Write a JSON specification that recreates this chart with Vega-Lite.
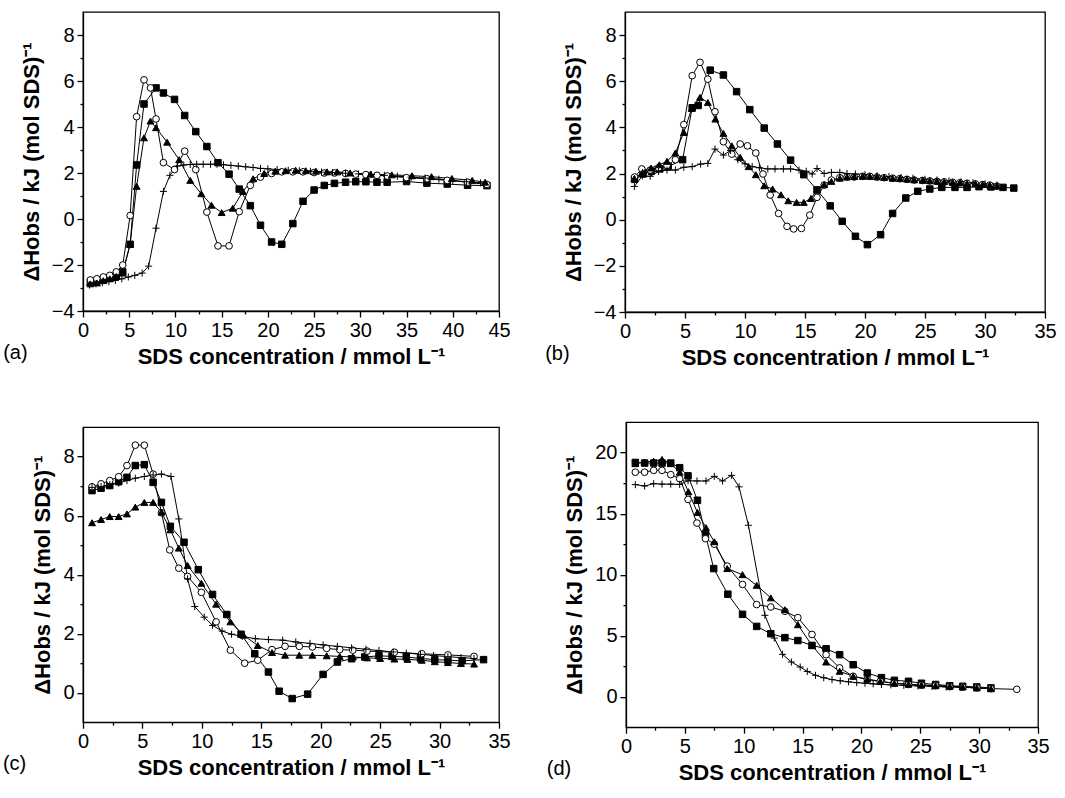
{
"$schema": "https://vega.github.io/schema/vega-lite/v6.json",
"padding": {"left": 2, "top": 11, "right": 0, "bottom": 0},
"background": "white",
"datasets": {"d": [
{"p":"a","s":"sq","x":0.8,"y":-2.75},{"p":"a","s":"sq","x":1.5,"y":-2.7},{"p":"a","s":"sq","x":2.2,"y":-2.62},{"p":"a","s":"sq","x":2.9,"y":-2.55},{"p":"a","s":"sq","x":3.6,"y":-2.45},{"p":"a","s":"sq","x":4.3,"y":-2.3},{"p":"a","s":"sq","x":5.1,"y":-1.1},{"p":"a","s":"sq","x":5.8,"y":2.35},{"p":"a","s":"sq","x":6.6,"y":5.0},{"p":"a","s":"sq","x":7.9,"y":5.7},{"p":"a","s":"sq","x":8.7,"y":5.48},{"p":"a","s":"sq","x":9.9,"y":5.2},{"p":"a","s":"sq","x":11.0,"y":4.5},{"p":"a","s":"sq","x":12.2,"y":3.8},{"p":"a","s":"sq","x":13.4,"y":3.15},{"p":"a","s":"sq","x":14.6,"y":2.45},{"p":"a","s":"sq","x":15.8,"y":1.95},{"p":"a","s":"sq","x":16.9,"y":1.3},{"p":"a","s":"sq","x":18.1,"y":0.58},{"p":"a","s":"sq","x":19.2,"y":-0.27},{"p":"a","s":"sq","x":20.4,"y":-1.0},{"p":"a","s":"sq","x":21.5,"y":-1.1},{"p":"a","s":"sq","x":22.7,"y":-0.2},{"p":"a","s":"sq","x":23.8,"y":0.77},{"p":"a","s":"sq","x":25.0,"y":1.26},{"p":"a","s":"sq","x":26.1,"y":1.46},{"p":"a","s":"sq","x":27.2,"y":1.55},{"p":"a","s":"sq","x":28.4,"y":1.6},{"p":"a","s":"sq","x":29.5,"y":1.62},{"p":"a","s":"sq","x":30.6,"y":1.62},{"p":"a","s":"sq","x":31.8,"y":1.6},{"p":"a","s":"sq","x":32.9,"y":1.6},{"p":"a","s":"sq","x":35.0,"y":1.63},{"p":"a","s":"sq","x":37.2,"y":1.56},{"p":"a","s":"sq","x":39.4,"y":1.52},{"p":"a","s":"sq","x":41.6,"y":1.47},{"p":"a","s":"sq","x":43.7,"y":1.45},
{"p":"a","s":"ci","x":0.8,"y":-2.65},{"p":"a","s":"ci","x":1.5,"y":-2.6},{"p":"a","s":"ci","x":2.2,"y":-2.52},{"p":"a","s":"ci","x":2.9,"y":-2.45},{"p":"a","s":"ci","x":3.6,"y":-2.3},{"p":"a","s":"ci","x":4.3,"y":-2.0},{"p":"a","s":"ci","x":5.1,"y":0.15},{"p":"a","s":"ci","x":5.8,"y":4.45},{"p":"a","s":"ci","x":6.6,"y":6.05},{"p":"a","s":"ci","x":7.3,"y":5.7},{"p":"a","s":"ci","x":7.9,"y":4.35},{"p":"a","s":"ci","x":8.7,"y":2.45},{"p":"a","s":"ci","x":9.9,"y":2.15},{"p":"a","s":"ci","x":11.0,"y":2.95},{"p":"a","s":"ci","x":12.2,"y":2.15},{"p":"a","s":"ci","x":13.4,"y":0.3},{"p":"a","s":"ci","x":14.6,"y":-1.17},{"p":"a","s":"ci","x":15.8,"y":-1.17},{"p":"a","s":"ci","x":16.9,"y":0.32},{"p":"a","s":"ci","x":18.1,"y":1.46},{"p":"a","s":"ci","x":19.2,"y":1.82},{"p":"a","s":"ci","x":20.4,"y":1.98},{"p":"a","s":"ci","x":21.5,"y":2.05},{"p":"a","s":"ci","x":22.7,"y":2.05},{"p":"a","s":"ci","x":23.8,"y":2.05},{"p":"a","s":"ci","x":25.0,"y":2.02},{"p":"a","s":"ci","x":26.1,"y":2.0},{"p":"a","s":"ci","x":27.2,"y":2.0},{"p":"a","s":"ci","x":28.4,"y":1.98},{"p":"a","s":"ci","x":29.5,"y":1.95},{"p":"a","s":"ci","x":30.6,"y":1.93},{"p":"a","s":"ci","x":31.8,"y":1.9},{"p":"a","s":"ci","x":32.9,"y":1.87},{"p":"a","s":"ci","x":35.0,"y":1.8},{"p":"a","s":"ci","x":37.2,"y":1.75},{"p":"a","s":"ci","x":39.4,"y":1.68},{"p":"a","s":"ci","x":41.6,"y":1.6},{"p":"a","s":"ci","x":43.7,"y":1.5},
{"p":"a","s":"tr","x":0.8,"y":-2.82},{"p":"a","s":"tr","x":1.5,"y":-2.78},{"p":"a","s":"tr","x":2.2,"y":-2.68},{"p":"a","s":"tr","x":2.9,"y":-2.6},{"p":"a","s":"tr","x":3.6,"y":-2.5},{"p":"a","s":"tr","x":4.3,"y":-2.35},{"p":"a","s":"tr","x":5.1,"y":-1.1},{"p":"a","s":"tr","x":5.8,"y":1.42},{"p":"a","s":"tr","x":6.6,"y":3.53},{"p":"a","s":"tr","x":7.3,"y":4.26},{"p":"a","s":"tr","x":7.9,"y":3.97},{"p":"a","s":"tr","x":9.1,"y":3.34},{"p":"a","s":"tr","x":10.4,"y":2.58},{"p":"a","s":"tr","x":11.6,"y":1.68},{"p":"a","s":"tr","x":12.8,"y":1.1},{"p":"a","s":"tr","x":13.9,"y":0.6},{"p":"a","s":"tr","x":15.0,"y":0.28},{"p":"a","s":"tr","x":16.2,"y":0.47},{"p":"a","s":"tr","x":17.3,"y":1.2},{"p":"a","s":"tr","x":18.4,"y":1.75},{"p":"a","s":"tr","x":19.6,"y":1.98},{"p":"a","s":"tr","x":20.8,"y":2.08},{"p":"a","s":"tr","x":21.9,"y":2.1},{"p":"a","s":"tr","x":23.0,"y":2.12},{"p":"a","s":"tr","x":24.1,"y":2.1},{"p":"a","s":"tr","x":25.2,"y":2.08},{"p":"a","s":"tr","x":26.4,"y":2.05},{"p":"a","s":"tr","x":27.5,"y":2.05},{"p":"a","s":"tr","x":28.9,"y":2.0},{"p":"a","s":"tr","x":31.1,"y":1.95},{"p":"a","s":"tr","x":33.4,"y":1.92},{"p":"a","s":"tr","x":35.6,"y":1.88},{"p":"a","s":"tr","x":37.7,"y":1.84},{"p":"a","s":"tr","x":39.9,"y":1.76},{"p":"a","s":"tr","x":42.1,"y":1.68},{"p":"a","s":"tr","x":43.5,"y":1.6},
{"p":"a","s":"pl","x":0.7,"y":-2.87},{"p":"a","s":"pl","x":1.4,"y":-2.82},{"p":"a","s":"pl","x":2.1,"y":-2.77},{"p":"a","s":"pl","x":2.8,"y":-2.72},{"p":"a","s":"pl","x":3.5,"y":-2.67},{"p":"a","s":"pl","x":4.2,"y":-2.6},{"p":"a","s":"pl","x":4.9,"y":-2.52},{"p":"a","s":"pl","x":5.6,"y":-2.45},{"p":"a","s":"pl","x":6.4,"y":-2.35},{"p":"a","s":"pl","x":7.1,"y":-2.05},{"p":"a","s":"pl","x":7.9,"y":-0.4},{"p":"a","s":"pl","x":8.7,"y":1.2},{"p":"a","s":"pl","x":9.4,"y":1.9},{"p":"a","s":"pl","x":10.2,"y":2.3},{"p":"a","s":"pl","x":10.9,"y":2.35},{"p":"a","s":"pl","x":11.6,"y":2.37},{"p":"a","s":"pl","x":12.3,"y":2.38},{"p":"a","s":"pl","x":13.0,"y":2.38},{"p":"a","s":"pl","x":13.8,"y":2.38},{"p":"a","s":"pl","x":14.5,"y":2.38},{"p":"a","s":"pl","x":15.2,"y":2.36},{"p":"a","s":"pl","x":16.0,"y":2.33},{"p":"a","s":"pl","x":16.8,"y":2.3},{"p":"a","s":"pl","x":17.6,"y":2.27},{"p":"a","s":"pl","x":18.4,"y":2.24},{"p":"a","s":"pl","x":19.2,"y":2.2},{"p":"a","s":"pl","x":20.0,"y":2.18},{"p":"a","s":"pl","x":21.0,"y":2.15},{"p":"a","s":"pl","x":22.2,"y":2.12},{"p":"a","s":"pl","x":23.4,"y":2.1},{"p":"a","s":"pl","x":24.6,"y":2.07},{"p":"a","s":"pl","x":25.8,"y":2.04},{"p":"a","s":"pl","x":27.0,"y":2.02},{"p":"a","s":"pl","x":28.4,"y":1.99},{"p":"a","s":"pl","x":29.8,"y":1.96},{"p":"a","s":"pl","x":31.2,"y":1.93},{"p":"a","s":"pl","x":32.6,"y":1.9},{"p":"a","s":"pl","x":34.0,"y":1.86},{"p":"a","s":"pl","x":35.5,"y":1.82},{"p":"a","s":"pl","x":37.0,"y":1.78},{"p":"a","s":"pl","x":38.5,"y":1.73},{"p":"a","s":"pl","x":40.0,"y":1.68},{"p":"a","s":"pl","x":41.5,"y":1.62},{"p":"a","s":"pl","x":43.0,"y":1.57},

{"p":"b","s":"sq","x":0.8,"y":1.75},{"p":"b","s":"sq","x":1.5,"y":1.98},{"p":"b","s":"sq","x":2.2,"y":2.1},{"p":"b","s":"sq","x":2.9,"y":2.2},{"p":"b","s":"sq","x":3.6,"y":2.3},{"p":"b","s":"sq","x":4.8,"y":2.6},{"p":"b","s":"sq","x":5.6,"y":4.85},{"p":"b","s":"sq","x":6.1,"y":4.95},{"p":"b","s":"sq","x":7.1,"y":6.48},{"p":"b","s":"sq","x":8.2,"y":6.27},{"p":"b","s":"sq","x":9.3,"y":5.55},{"p":"b","s":"sq","x":10.4,"y":4.77},{"p":"b","s":"sq","x":11.6,"y":3.97},{"p":"b","s":"sq","x":12.7,"y":3.28},{"p":"b","s":"sq","x":13.8,"y":2.58},{"p":"b","s":"sq","x":14.9,"y":1.95},{"p":"b","s":"sq","x":16.0,"y":1.29},{"p":"b","s":"sq","x":17.1,"y":0.6},{"p":"b","s":"sq","x":18.1,"y":-0.07},{"p":"b","s":"sq","x":19.2,"y":-0.72},{"p":"b","s":"sq","x":20.2,"y":-1.08},{"p":"b","s":"sq","x":21.3,"y":-0.65},{"p":"b","s":"sq","x":22.3,"y":0.27},{"p":"b","s":"sq","x":23.4,"y":0.94},{"p":"b","s":"sq","x":24.4,"y":1.23},{"p":"b","s":"sq","x":25.4,"y":1.33},{"p":"b","s":"sq","x":26.4,"y":1.4},{"p":"b","s":"sq","x":27.5,"y":1.4},{"p":"b","s":"sq","x":28.5,"y":1.4},{"p":"b","s":"sq","x":29.5,"y":1.43},{"p":"b","s":"sq","x":30.5,"y":1.42},{"p":"b","s":"sq","x":31.5,"y":1.4},{"p":"b","s":"sq","x":32.4,"y":1.37},
{"p":"b","s":"ci","x":0.8,"y":1.85},{"p":"b","s":"ci","x":1.4,"y":2.2},{"p":"b","s":"ci","x":2.1,"y":2.15},{"p":"b","s":"ci","x":2.8,"y":2.25},{"p":"b","s":"ci","x":3.5,"y":2.35},{"p":"b","s":"ci","x":4.2,"y":2.6},{"p":"b","s":"ci","x":4.9,"y":4.12},{"p":"b","s":"ci","x":5.6,"y":6.24},{"p":"b","s":"ci","x":6.25,"y":6.82},{"p":"b","s":"ci","x":6.9,"y":6.09},{"p":"b","s":"ci","x":7.5,"y":4.68},{"p":"b","s":"ci","x":8.2,"y":3.38},{"p":"b","s":"ci","x":8.9,"y":2.84},{"p":"b","s":"ci","x":9.6,"y":3.28},{"p":"b","s":"ci","x":10.2,"y":3.2},{"p":"b","s":"ci","x":10.9,"y":2.89},{"p":"b","s":"ci","x":11.5,"y":1.98},{"p":"b","s":"ci","x":12.1,"y":1.07},{"p":"b","s":"ci","x":12.8,"y":0.27},{"p":"b","s":"ci","x":13.5,"y":-0.29},{"p":"b","s":"ci","x":14.05,"y":-0.4},{"p":"b","s":"ci","x":14.7,"y":-0.38},{"p":"b","s":"ci","x":15.4,"y":0.2},{"p":"b","s":"ci","x":16.0,"y":0.97},{"p":"b","s":"ci","x":16.6,"y":1.5},{"p":"b","s":"ci","x":17.2,"y":1.72},{"p":"b","s":"ci","x":17.9,"y":1.82},{"p":"b","s":"ci","x":18.5,"y":1.85},{"p":"b","s":"ci","x":19.1,"y":1.85},{"p":"b","s":"ci","x":19.8,"y":1.88},{"p":"b","s":"ci","x":20.4,"y":1.88},{"p":"b","s":"ci","x":21.0,"y":1.85},{"p":"b","s":"ci","x":21.6,"y":1.82},{"p":"b","s":"ci","x":22.3,"y":1.8},{"p":"b","s":"ci","x":22.9,"y":1.78},{"p":"b","s":"ci","x":23.5,"y":1.75},{"p":"b","s":"ci","x":24.1,"y":1.72},{"p":"b","s":"ci","x":24.8,"y":1.7},{"p":"b","s":"ci","x":25.4,"y":1.68},{"p":"b","s":"ci","x":26.0,"y":1.66},{"p":"b","s":"ci","x":26.6,"y":1.64},{"p":"b","s":"ci","x":27.3,"y":1.62},{"p":"b","s":"ci","x":27.9,"y":1.6},{"p":"b","s":"ci","x":28.5,"y":1.58},{"p":"b","s":"ci","x":29.2,"y":1.55},{"p":"b","s":"ci","x":29.8,"y":1.52},{"p":"b","s":"ci","x":30.4,"y":1.5},{"p":"b","s":"ci","x":31.0,"y":1.45},
{"p":"b","s":"tr","x":0.78,"y":1.79},{"p":"b","s":"tr","x":1.47,"y":2.05},{"p":"b","s":"tr","x":2.17,"y":2.24},{"p":"b","s":"tr","x":2.86,"y":2.38},{"p":"b","s":"tr","x":3.5,"y":2.53},{"p":"b","s":"tr","x":4.2,"y":2.89},{"p":"b","s":"tr","x":4.9,"y":3.78},{"p":"b","s":"tr","x":5.56,"y":4.82},{"p":"b","s":"tr","x":6.25,"y":5.3},{"p":"b","s":"tr","x":6.9,"y":5.08},{"p":"b","s":"tr","x":7.53,"y":4.36},{"p":"b","s":"tr","x":8.2,"y":3.74},{"p":"b","s":"tr","x":8.9,"y":3.2},{"p":"b","s":"tr","x":9.6,"y":2.7},{"p":"b","s":"tr","x":10.3,"y":2.3},{"p":"b","s":"tr","x":10.9,"y":1.95},{"p":"b","s":"tr","x":11.6,"y":1.47},{"p":"b","s":"tr","x":12.3,"y":1.33},{"p":"b","s":"tr","x":13.0,"y":1.08},{"p":"b","s":"tr","x":13.6,"y":0.82},{"p":"b","s":"tr","x":14.3,"y":0.75},{"p":"b","s":"tr","x":14.9,"y":0.75},{"p":"b","s":"tr","x":15.5,"y":0.92},{"p":"b","s":"tr","x":16.0,"y":1.3},{"p":"b","s":"tr","x":16.6,"y":1.52},{"p":"b","s":"tr","x":17.2,"y":1.66},{"p":"b","s":"tr","x":17.9,"y":1.8},{"p":"b","s":"tr","x":18.5,"y":1.85},{"p":"b","s":"tr","x":19.1,"y":1.87},{"p":"b","s":"tr","x":19.8,"y":1.88},{"p":"b","s":"tr","x":20.4,"y":1.88},{"p":"b","s":"tr","x":21.0,"y":1.86},{"p":"b","s":"tr","x":21.6,"y":1.83},{"p":"b","s":"tr","x":22.3,"y":1.8},{"p":"b","s":"tr","x":22.9,"y":1.78},{"p":"b","s":"tr","x":23.5,"y":1.76},{"p":"b","s":"tr","x":24.1,"y":1.73},{"p":"b","s":"tr","x":24.8,"y":1.71},{"p":"b","s":"tr","x":25.4,"y":1.69},{"p":"b","s":"tr","x":26.0,"y":1.67},{"p":"b","s":"tr","x":26.6,"y":1.65},{"p":"b","s":"tr","x":27.3,"y":1.62},{"p":"b","s":"tr","x":27.9,"y":1.6},{"p":"b","s":"tr","x":28.5,"y":1.58},{"p":"b","s":"tr","x":29.2,"y":1.56},{"p":"b","s":"tr","x":29.8,"y":1.53},{"p":"b","s":"tr","x":30.4,"y":1.5},{"p":"b","s":"tr","x":31.0,"y":1.47},
{"p":"b","s":"pl","x":0.78,"y":1.44},{"p":"b","s":"pl","x":1.45,"y":1.9},{"p":"b","s":"pl","x":2.1,"y":1.88},{"p":"b","s":"pl","x":2.8,"y":2.09},{"p":"b","s":"pl","x":3.5,"y":2.15},{"p":"b","s":"pl","x":4.2,"y":2.15},{"p":"b","s":"pl","x":4.9,"y":2.27},{"p":"b","s":"pl","x":5.6,"y":2.3},{"p":"b","s":"pl","x":6.3,"y":2.41},{"p":"b","s":"pl","x":6.9,"y":2.44},{"p":"b","s":"pl","x":7.5,"y":3.06},{"p":"b","s":"pl","x":8.2,"y":2.8},{"p":"b","s":"pl","x":8.8,"y":3.0},{"p":"b","s":"pl","x":9.4,"y":2.6},{"p":"b","s":"pl","x":10.0,"y":2.42},{"p":"b","s":"pl","x":10.6,"y":2.3},{"p":"b","s":"pl","x":11.2,"y":2.25},{"p":"b","s":"pl","x":11.9,"y":2.2},{"p":"b","s":"pl","x":12.5,"y":2.2},{"p":"b","s":"pl","x":13.2,"y":2.2},{"p":"b","s":"pl","x":13.8,"y":2.2},{"p":"b","s":"pl","x":14.5,"y":2.15},{"p":"b","s":"pl","x":15.1,"y":2.1},{"p":"b","s":"pl","x":15.6,"y":1.98},{"p":"b","s":"pl","x":16.0,"y":2.22},{"p":"b","s":"pl","x":16.6,"y":2.0},{"p":"b","s":"pl","x":17.2,"y":2.05},{"p":"b","s":"pl","x":17.9,"y":2.05},{"p":"b","s":"pl","x":18.5,"y":2.0},{"p":"b","s":"pl","x":19.2,"y":1.98},{"p":"b","s":"pl","x":20.0,"y":1.95},{"p":"b","s":"pl","x":21.0,"y":1.9},{"p":"b","s":"pl","x":22.0,"y":1.87},{"p":"b","s":"pl","x":23.0,"y":1.83},{"p":"b","s":"pl","x":24.0,"y":1.8},{"p":"b","s":"pl","x":25.0,"y":1.75},{"p":"b","s":"pl","x":26.0,"y":1.72},{"p":"b","s":"pl","x":27.0,"y":1.68},{"p":"b","s":"pl","x":28.0,"y":1.64},{"p":"b","s":"pl","x":29.0,"y":1.6},{"p":"b","s":"pl","x":30.0,"y":1.55},{"p":"b","s":"pl","x":31.0,"y":1.5},

{"p":"c","s":"sq","x":0.76,"y":6.85},{"p":"c","s":"sq","x":1.52,"y":6.93},{"p":"c","s":"sq","x":2.25,"y":7.02},{"p":"c","s":"sq","x":3.0,"y":7.15},{"p":"c","s":"sq","x":3.7,"y":7.3},{"p":"c","s":"sq","x":4.4,"y":7.7},{"p":"c","s":"sq","x":5.16,"y":7.73},{"p":"c","s":"sq","x":5.9,"y":7.13},{"p":"c","s":"sq","x":6.6,"y":6.45},{"p":"c","s":"sq","x":7.35,"y":5.64},{"p":"c","s":"sq","x":8.5,"y":5.1},{"p":"c","s":"sq","x":9.7,"y":4.17},{"p":"c","s":"sq","x":10.9,"y":3.33},{"p":"c","s":"sq","x":12.1,"y":2.65},{"p":"c","s":"sq","x":13.3,"y":1.98},{"p":"c","s":"sq","x":14.45,"y":1.32},{"p":"c","s":"sq","x":15.6,"y":0.7},{"p":"c","s":"sq","x":16.5,"y":0.05},{"p":"c","s":"sq","x":17.6,"y":-0.2},{"p":"c","s":"sq","x":18.9,"y":-0.05},{"p":"c","s":"sq","x":20.2,"y":0.62},{"p":"c","s":"sq","x":21.4,"y":1.04},{"p":"c","s":"sq","x":22.6,"y":1.15},{"p":"c","s":"sq","x":23.7,"y":1.21},{"p":"c","s":"sq","x":24.9,"y":1.25},{"p":"c","s":"sq","x":26.0,"y":1.23},{"p":"c","s":"sq","x":27.2,"y":1.21},{"p":"c","s":"sq","x":28.4,"y":1.16},{"p":"c","s":"sq","x":29.6,"y":1.12},{"p":"c","s":"sq","x":30.7,"y":1.1},{"p":"c","s":"sq","x":31.9,"y":1.08},{"p":"c","s":"sq","x":33.7,"y":1.12},
{"p":"c","s":"ci","x":0.76,"y":6.98},{"p":"c","s":"ci","x":1.52,"y":7.08},{"p":"c","s":"ci","x":2.25,"y":7.19},{"p":"c","s":"ci","x":3.0,"y":7.32},{"p":"c","s":"ci","x":3.7,"y":7.7},{"p":"c","s":"ci","x":4.4,"y":8.39},{"p":"c","s":"ci","x":5.16,"y":8.39},{"p":"c","s":"ci","x":5.9,"y":7.41},{"p":"c","s":"ci","x":6.6,"y":6.1},{"p":"c","s":"ci","x":7.3,"y":4.84},{"p":"c","s":"ci","x":8.06,"y":4.22},{"p":"c","s":"ci","x":8.8,"y":3.94},{"p":"c","s":"ci","x":9.96,"y":3.4},{"p":"c","s":"ci","x":11.2,"y":2.4},{"p":"c","s":"ci","x":12.4,"y":1.44},{"p":"c","s":"ci","x":13.6,"y":1.0},{"p":"c","s":"ci","x":14.7,"y":1.1},{"p":"c","s":"ci","x":15.9,"y":1.46},{"p":"c","s":"ci","x":17.0,"y":1.57},{"p":"c","s":"ci","x":18.2,"y":1.57},{"p":"c","s":"ci","x":19.3,"y":1.55},{"p":"c","s":"ci","x":20.5,"y":1.5},{"p":"c","s":"ci","x":21.6,"y":1.46},{"p":"c","s":"ci","x":22.7,"y":1.44},{"p":"c","s":"ci","x":23.9,"y":1.41},{"p":"c","s":"ci","x":26.2,"y":1.37},{"p":"c","s":"ci","x":28.5,"y":1.32},{"p":"c","s":"ci","x":30.7,"y":1.28},{"p":"c","s":"ci","x":32.9,"y":1.23},
{"p":"c","s":"tr","x":0.76,"y":5.76},{"p":"c","s":"tr","x":1.52,"y":5.87},{"p":"c","s":"tr","x":2.25,"y":5.97},{"p":"c","s":"tr","x":3.0,"y":5.97},{"p":"c","s":"tr","x":3.7,"y":6.06},{"p":"c","s":"tr","x":4.4,"y":6.29},{"p":"c","s":"tr","x":5.16,"y":6.45},{"p":"c","s":"tr","x":5.9,"y":6.45},{"p":"c","s":"tr","x":6.6,"y":6.12},{"p":"c","s":"tr","x":7.35,"y":5.52},{"p":"c","s":"tr","x":8.06,"y":4.9},{"p":"c","s":"tr","x":8.8,"y":4.31},{"p":"c","s":"tr","x":9.96,"y":3.71},{"p":"c","s":"tr","x":11.2,"y":3.0},{"p":"c","s":"tr","x":12.4,"y":2.4},{"p":"c","s":"tr","x":13.5,"y":1.95},{"p":"c","s":"tr","x":14.7,"y":1.6},{"p":"c","s":"tr","x":15.9,"y":1.36},{"p":"c","s":"tr","x":17.0,"y":1.27},{"p":"c","s":"tr","x":18.2,"y":1.27},{"p":"c","s":"tr","x":19.3,"y":1.27},{"p":"c","s":"tr","x":20.5,"y":1.25},{"p":"c","s":"tr","x":21.6,"y":1.23},{"p":"c","s":"tr","x":22.7,"y":1.21},{"p":"c","s":"tr","x":23.9,"y":1.18},{"p":"c","s":"tr","x":25.0,"y":1.16},{"p":"c","s":"tr","x":26.2,"y":1.14},{"p":"c","s":"tr","x":27.3,"y":1.13},{"p":"c","s":"tr","x":28.5,"y":1.1},{"p":"c","s":"tr","x":29.6,"y":1.05},{"p":"c","s":"tr","x":30.7,"y":1.02},{"p":"c","s":"tr","x":31.8,"y":0.99},{"p":"c","s":"tr","x":32.9,"y":0.97},
{"p":"c","s":"pl","x":0.76,"y":6.96},{"p":"c","s":"pl","x":1.52,"y":6.99},{"p":"c","s":"pl","x":2.25,"y":7.05},{"p":"c","s":"pl","x":3.0,"y":7.1},{"p":"c","s":"pl","x":3.7,"y":7.19},{"p":"c","s":"pl","x":4.4,"y":7.27},{"p":"c","s":"pl","x":5.16,"y":7.33},{"p":"c","s":"pl","x":5.9,"y":7.38},{"p":"c","s":"pl","x":6.6,"y":7.41},{"p":"c","s":"pl","x":7.4,"y":7.33},{"p":"c","s":"pl","x":8.06,"y":5.89},{"p":"c","s":"pl","x":8.8,"y":3.86},{"p":"c","s":"pl","x":9.4,"y":2.92},{"p":"c","s":"pl","x":10.2,"y":2.56},{"p":"c","s":"pl","x":10.9,"y":2.28},{"p":"c","s":"pl","x":11.7,"y":2.09},{"p":"c","s":"pl","x":12.5,"y":1.98},{"p":"c","s":"pl","x":13.4,"y":1.91},{"p":"c","s":"pl","x":14.5,"y":1.83},{"p":"c","s":"pl","x":15.6,"y":1.8},{"p":"c","s":"pl","x":16.8,"y":1.78},{"p":"c","s":"pl","x":17.9,"y":1.72},{"p":"c","s":"pl","x":19.1,"y":1.67},{"p":"c","s":"pl","x":20.2,"y":1.62},{"p":"c","s":"pl","x":21.4,"y":1.57},{"p":"c","s":"pl","x":22.6,"y":1.52},{"p":"c","s":"pl","x":23.8,"y":1.47},{"p":"c","s":"pl","x":24.9,"y":1.43},{"p":"c","s":"pl","x":26.1,"y":1.38},{"p":"c","s":"pl","x":27.2,"y":1.34},{"p":"c","s":"pl","x":28.4,"y":1.3},{"p":"c","s":"pl","x":29.5,"y":1.26},{"p":"c","s":"pl","x":30.7,"y":1.22},{"p":"c","s":"pl","x":31.8,"y":1.19},{"p":"c","s":"pl","x":32.9,"y":1.16},

{"p":"d","s":"sq","x":0.79,"y":19.2},{"p":"d","s":"sq","x":1.58,"y":19.15},{"p":"d","s":"sq","x":2.35,"y":19.15},{"p":"d","s":"sq","x":3.06,"y":19.15},{"p":"d","s":"sq","x":3.8,"y":19.15},{"p":"d","s":"sq","x":4.56,"y":18.77},{"p":"d","s":"sq","x":5.27,"y":18.1},{"p":"d","s":"sq","x":6.07,"y":16.1},{"p":"d","s":"sq","x":6.75,"y":13.3},{"p":"d","s":"sq","x":7.45,"y":10.5},{"p":"d","s":"sq","x":8.65,"y":8.4},{"p":"d","s":"sq","x":9.9,"y":6.75},{"p":"d","s":"sq","x":11.1,"y":5.76},{"p":"d","s":"sq","x":12.3,"y":5.16},{"p":"d","s":"sq","x":13.5,"y":4.84},{"p":"d","s":"sq","x":14.6,"y":4.6},{"p":"d","s":"sq","x":15.8,"y":4.2},{"p":"d","s":"sq","x":17.0,"y":3.93},{"p":"d","s":"sq","x":18.15,"y":3.44},{"p":"d","s":"sq","x":19.3,"y":2.62},{"p":"d","s":"sq","x":20.5,"y":1.94},{"p":"d","s":"sq","x":21.7,"y":1.56},{"p":"d","s":"sq","x":22.8,"y":1.34},{"p":"d","s":"sq","x":24.0,"y":1.26},{"p":"d","s":"sq","x":25.1,"y":1.1},{"p":"d","s":"sq","x":26.3,"y":1.0},{"p":"d","s":"sq","x":27.5,"y":0.9},{"p":"d","s":"sq","x":28.6,"y":0.85},{"p":"d","s":"sq","x":29.8,"y":0.8},{"p":"d","s":"sq","x":31.0,"y":0.72},
{"p":"d","s":"ci","x":0.79,"y":18.4},{"p":"d","s":"ci","x":1.58,"y":18.4},{"p":"d","s":"ci","x":2.35,"y":18.55},{"p":"d","s":"ci","x":3.06,"y":18.55},{"p":"d","s":"ci","x":3.8,"y":18.2},{"p":"d","s":"ci","x":4.56,"y":17.87},{"p":"d","s":"ci","x":5.27,"y":16.17},{"p":"d","s":"ci","x":6.03,"y":14.23},{"p":"d","s":"ci","x":6.75,"y":12.95},{"p":"d","s":"ci","x":7.5,"y":12.5},{"p":"d","s":"ci","x":8.6,"y":10.7},{"p":"d","s":"ci","x":9.9,"y":9.2},{"p":"d","s":"ci","x":11.1,"y":7.55},{"p":"d","s":"ci","x":12.3,"y":7.35},{"p":"d","s":"ci","x":13.5,"y":7.0},{"p":"d","s":"ci","x":14.6,"y":6.48},{"p":"d","s":"ci","x":15.8,"y":5.1},{"p":"d","s":"ci","x":17.0,"y":3.44},{"p":"d","s":"ci","x":18.15,"y":2.36},{"p":"d","s":"ci","x":19.3,"y":1.67},{"p":"d","s":"ci","x":20.5,"y":1.4},{"p":"d","s":"ci","x":21.6,"y":1.25},{"p":"d","s":"ci","x":22.8,"y":1.1},{"p":"d","s":"ci","x":24.0,"y":1.0},{"p":"d","s":"ci","x":25.1,"y":0.95},{"p":"d","s":"ci","x":26.3,"y":0.9},{"p":"d","s":"ci","x":27.5,"y":0.82},{"p":"d","s":"ci","x":28.6,"y":0.78},{"p":"d","s":"ci","x":29.8,"y":0.72},{"p":"d","s":"ci","x":31.0,"y":0.66},{"p":"d","s":"ci","x":33.2,"y":0.6},
{"p":"d","s":"tr","x":0.79,"y":19.1},{"p":"d","s":"tr","x":1.58,"y":19.23},{"p":"d","s":"tr","x":2.35,"y":19.3},{"p":"d","s":"tr","x":3.06,"y":19.45},{"p":"d","s":"tr","x":3.8,"y":19.1},{"p":"d","s":"tr","x":4.56,"y":18.4},{"p":"d","s":"tr","x":5.3,"y":16.8},{"p":"d","s":"tr","x":6.07,"y":15.1},{"p":"d","s":"tr","x":6.8,"y":13.85},{"p":"d","s":"tr","x":7.5,"y":12.7},{"p":"d","s":"tr","x":8.6,"y":10.5},{"p":"d","s":"tr","x":9.9,"y":10.0},{"p":"d","s":"tr","x":11.1,"y":9.13},{"p":"d","s":"tr","x":12.3,"y":8.1},{"p":"d","s":"tr","x":13.5,"y":7.13},{"p":"d","s":"tr","x":14.6,"y":5.9},{"p":"d","s":"tr","x":15.8,"y":4.2},{"p":"d","s":"tr","x":17.0,"y":2.84},{"p":"d","s":"tr","x":18.15,"y":2.08},{"p":"d","s":"tr","x":19.3,"y":1.67},{"p":"d","s":"tr","x":20.5,"y":1.45},{"p":"d","s":"tr","x":21.6,"y":1.25},{"p":"d","s":"tr","x":22.8,"y":1.1},{"p":"d","s":"tr","x":24.0,"y":1.02},{"p":"d","s":"tr","x":25.1,"y":0.95},{"p":"d","s":"tr","x":26.3,"y":0.9},{"p":"d","s":"tr","x":27.5,"y":0.85},{"p":"d","s":"tr","x":28.6,"y":0.8},{"p":"d","s":"tr","x":29.8,"y":0.72},{"p":"d","s":"tr","x":31.0,"y":0.65},
{"p":"d","s":"pl","x":0.79,"y":17.38},{"p":"d","s":"pl","x":1.58,"y":17.27},{"p":"d","s":"pl","x":2.35,"y":17.46},{"p":"d","s":"pl","x":3.06,"y":17.42},{"p":"d","s":"pl","x":3.8,"y":17.42},{"p":"d","s":"pl","x":4.56,"y":17.4},{"p":"d","s":"pl","x":5.27,"y":17.7},{"p":"d","s":"pl","x":6.03,"y":17.68},{"p":"d","s":"pl","x":6.8,"y":17.68},{"p":"d","s":"pl","x":7.5,"y":18.06},{"p":"d","s":"pl","x":8.2,"y":17.68},{"p":"d","s":"pl","x":8.97,"y":18.14},{"p":"d","s":"pl","x":9.6,"y":17.2},{"p":"d","s":"pl","x":10.4,"y":14.05},{"p":"d","s":"pl","x":11.8,"y":6.67},{"p":"d","s":"pl","x":12.6,"y":4.8},{"p":"d","s":"pl","x":13.3,"y":3.47},{"p":"d","s":"pl","x":14.05,"y":2.84},{"p":"d","s":"pl","x":14.8,"y":2.43},{"p":"d","s":"pl","x":15.4,"y":2.07},{"p":"d","s":"pl","x":16.1,"y":1.75},{"p":"d","s":"pl","x":16.8,"y":1.55},{"p":"d","s":"pl","x":17.5,"y":1.4},{"p":"d","s":"pl","x":18.2,"y":1.3},{"p":"d","s":"pl","x":18.9,"y":1.22},{"p":"d","s":"pl","x":19.6,"y":1.15},{"p":"d","s":"pl","x":20.3,"y":1.1},{"p":"d","s":"pl","x":21.0,"y":1.05},{"p":"d","s":"pl","x":21.7,"y":1.0},{"p":"d","s":"pl","x":22.5,"y":0.97},{"p":"d","s":"pl","x":23.6,"y":0.93},{"p":"d","s":"pl","x":24.8,"y":0.88},{"p":"d","s":"pl","x":26.0,"y":0.84},{"p":"d","s":"pl","x":27.2,"y":0.8},{"p":"d","s":"pl","x":28.4,"y":0.77},{"p":"d","s":"pl","x":29.6,"y":0.73},{"p":"d","s":"pl","x":30.8,"y":0.7}
]},
"spacing": 52,
"vconcat": [
{"hconcat": [
{"width": 416, "height": 299,
 "data": {"name": "d"},
 "title": {"text": "(a)", "orient": "bottom", "anchor": "start", "frame": "bounds", "offset": -24, "dx": -17, "fontSize": 20, "fontWeight": "normal", "font": "Liberation Sans", "color": "black"},
 "transform": [{"filter": "datum.p === 'a'"}],
 "encoding": {
  "x": {"field": "x", "type": "quantitative", "scale": {"domain": [0, 45], "nice": false, "zero": false},
        "axis": {"values": [0,2.5,5,7.5,10,12.5,15,17.5,20,22.5,25,27.5,30,32.5,35,37.5,40,42.5,45], "labelExpr": "datum.value % 5 === 0 ? datum.label : ''", "tickSize": {"condition": {"test": "datum.value % 5 === 0", "value": 6}, "value": 3}, "title": "SDS concentration / mmol L⁻¹"}},
  "y": {"field": "y", "type": "quantitative", "scale": {"domain": [-4, 9], "nice": false, "zero": false},
        "axis": {"values": [-4,-3,-2,-1,0,1,2,3,4,5,6,7,8], "labelExpr": "datum.value % 2 === 0 ? datum.label : ''", "tickSize": {"condition": {"test": "datum.value % 2 === 0", "value": 6}, "value": 3}, "title": "ΔHobs / kJ (mol SDS)⁻¹"}}
 },
 "layer": [
  {"mark": {"type": "line", "color": "black", "strokeWidth": 1}, "encoding": {"detail": {"field": "s", "type": "nominal"}}},
  {"mark": {"type": "point", "filled": true, "stroke": "black", "strokeWidth": 1, "opacity": 1},
   "encoding": {"shape": {"field": "s", "type": "nominal", "scale": {"domain": ["sq","ci","tr","pl"], "range": ["square","circle","triangle-up","M-1,0L1,0M0,-1L0,1"]}, "legend": null},
                "fill": {"field": "s", "type": "nominal", "scale": {"domain": ["sq","ci","tr","pl"], "range": ["black","white","black","transparent"]}, "legend": null},
                "size": {"field": "s", "type": "nominal", "scale": {"domain": ["sq","ci","tr","pl"], "range": [42,50,70,60]}, "legend": null}}}
 ]},
{"width": 420, "height": 300,
 "data": {"name": "d"},
 "title": {"text": "(b)", "orient": "bottom", "anchor": "start", "frame": "bounds", "offset": -24, "dx": -17, "fontSize": 20, "fontWeight": "normal", "font": "Liberation Sans", "color": "black"},
 "transform": [{"filter": "datum.p === 'b'"}],
 "encoding": {
  "x": {"field": "x", "type": "quantitative", "scale": {"domain": [0, 35], "nice": false, "zero": false},
        "axis": {"values": [0,2.5,5,7.5,10,12.5,15,17.5,20,22.5,25,27.5,30,32.5,35], "labelExpr": "datum.value % 5 === 0 ? datum.label : ''", "tickSize": {"condition": {"test": "datum.value % 5 === 0", "value": 6}, "value": 3}, "title": "SDS concentration / mmol L⁻¹"}},
  "y": {"field": "y", "type": "quantitative", "scale": {"domain": [-4, 9], "nice": false, "zero": false},
        "axis": {"values": [-4,-3,-2,-1,0,1,2,3,4,5,6,7,8], "labelExpr": "datum.value % 2 === 0 ? datum.label : ''", "tickSize": {"condition": {"test": "datum.value % 2 === 0", "value": 6}, "value": 3}, "title": "ΔHobs / kJ (mol SDS)⁻¹"}}
 },
 "layer": [
  {"mark": {"type": "line", "color": "black", "strokeWidth": 1}, "encoding": {"detail": {"field": "s", "type": "nominal"}}},
  {"mark": {"type": "point", "filled": true, "stroke": "black", "strokeWidth": 1, "opacity": 1},
   "encoding": {"shape": {"field": "s", "type": "nominal", "scale": {"domain": ["sq","ci","tr","pl"], "range": ["square","circle","triangle-up","M-1,0L1,0M0,-1L0,1"]}, "legend": null},
                "fill": {"field": "s", "type": "nominal", "scale": {"domain": ["sq","ci","tr","pl"], "range": ["black","white","black","transparent"]}, "legend": null},
                "size": {"field": "s", "type": "nominal", "scale": {"domain": ["sq","ci","tr","pl"], "range": [42,50,70,60]}, "legend": null}}}
 ]}
], "spacing": 33},
{"hconcat": [
{"width": 416, "height": 295,
 "data": {"name": "d"},
 "title": {"text": "(c)", "orient": "bottom", "anchor": "start", "frame": "bounds", "offset": -24, "dx": -29, "fontSize": 20, "fontWeight": "normal", "font": "Liberation Sans", "color": "black"},
 "transform": [{"filter": "datum.p === 'c'"}],
 "encoding": {
  "x": {"field": "x", "type": "quantitative", "scale": {"domain": [0, 35], "nice": false, "zero": false},
        "axis": {"values": [0,2.5,5,7.5,10,12.5,15,17.5,20,22.5,25,27.5,30,32.5,35], "labelExpr": "datum.value % 5 === 0 ? datum.label : ''", "tickSize": {"condition": {"test": "datum.value % 5 === 0", "value": 6}, "value": 3}, "title": "SDS concentration / mmol L⁻¹"}},
  "y": {"field": "y", "type": "quantitative", "scale": {"domain": [-1, 9], "nice": false, "zero": false},
        "axis": {"values": [0,1,2,3,4,5,6,7,8], "labelExpr": "datum.value % 2 === 0 ? datum.label : ''", "tickSize": {"condition": {"test": "datum.value % 2 === 0", "value": 6}, "value": 3}, "title": "ΔHobs / kJ (mol SDS)⁻¹"}}
 },
 "layer": [
  {"mark": {"type": "line", "color": "black", "strokeWidth": 1}, "encoding": {"detail": {"field": "s", "type": "nominal"}}},
  {"mark": {"type": "point", "filled": true, "stroke": "black", "strokeWidth": 1, "opacity": 1},
   "encoding": {"shape": {"field": "s", "type": "nominal", "scale": {"domain": ["sq","ci","tr","pl"], "range": ["square","circle","triangle-up","M-1,0L1,0M0,-1L0,1"]}, "legend": null},
                "fill": {"field": "s", "type": "nominal", "scale": {"domain": ["sq","ci","tr","pl"], "range": ["black","white","black","transparent"]}, "legend": null},
                "size": {"field": "s", "type": "nominal", "scale": {"domain": ["sq","ci","tr","pl"], "range": [42,50,70,60]}, "legend": null}}}
 ]},
{"width": 412, "height": 305,
 "data": {"name": "d"},
 "title": {"text": "(d)", "orient": "bottom", "anchor": "start", "frame": "bounds", "offset": -24, "dx": -17, "fontSize": 20, "fontWeight": "normal", "font": "Liberation Sans", "color": "black"},
 "transform": [{"filter": "datum.p === 'd'"}],
 "encoding": {
  "x": {"field": "x", "type": "quantitative", "scale": {"domain": [0, 35], "nice": false, "zero": false},
        "axis": {"values": [0,2.5,5,7.5,10,12.5,15,17.5,20,22.5,25,27.5,30,32.5,35], "labelExpr": "datum.value % 5 === 0 ? datum.label : ''", "tickSize": {"condition": {"test": "datum.value % 5 === 0", "value": 6}, "value": 3}, "title": "SDS concentration / mmol L⁻¹"}},
  "y": {"field": "y", "type": "quantitative", "scale": {"domain": [-2.5, 22.5], "nice": false, "zero": false},
        "axis": {"values": [0,2.5,5,7.5,10,12.5,15,17.5,20], "labelExpr": "datum.value % 5 === 0 ? datum.label : ''", "tickSize": {"condition": {"test": "datum.value % 5 === 0", "value": 6}, "value": 3}, "title": "ΔHobs / kJ (mol SDS)⁻¹"}}
 },
 "layer": [
  {"mark": {"type": "line", "color": "black", "strokeWidth": 1}, "encoding": {"detail": {"field": "s", "type": "nominal"}}},
  {"mark": {"type": "point", "filled": true, "stroke": "black", "strokeWidth": 1, "opacity": 1},
   "encoding": {"shape": {"field": "s", "type": "nominal", "scale": {"domain": ["sq","ci","tr","pl"], "range": ["square","circle","triangle-up","M-1,0L1,0M0,-1L0,1"]}, "legend": null},
                "fill": {"field": "s", "type": "nominal", "scale": {"domain": ["sq","ci","tr","pl"], "range": ["black","white","black","transparent"]}, "legend": null},
                "size": {"field": "s", "type": "nominal", "scale": {"domain": ["sq","ci","tr","pl"], "range": [42,50,70,60]}, "legend": null}}}
 ]}
], "spacing": 35, "center": true}
],
"config": {
 "font": "Liberation Sans",
 "view": {"stroke": "black", "strokeWidth": 1.3},
 "axis": {"domainColor": "black", "domainWidth": 1.3, "tickColor": "black", "tickWidth": 1.3, "labelColor": "black", "titleColor": "black", "labelFont": "Liberation Sans", "titleFont": "Liberation Sans", "labelFontSize": 20, "titleFontSize": 22, "titleFontWeight": "bold", "grid": false, "labelPadding": 3, "labelOverlap": false, "labelFlush": false},
 "axisX": {"titlePadding": 6},
 "axisY": {"titlePadding": 8}
}
}
